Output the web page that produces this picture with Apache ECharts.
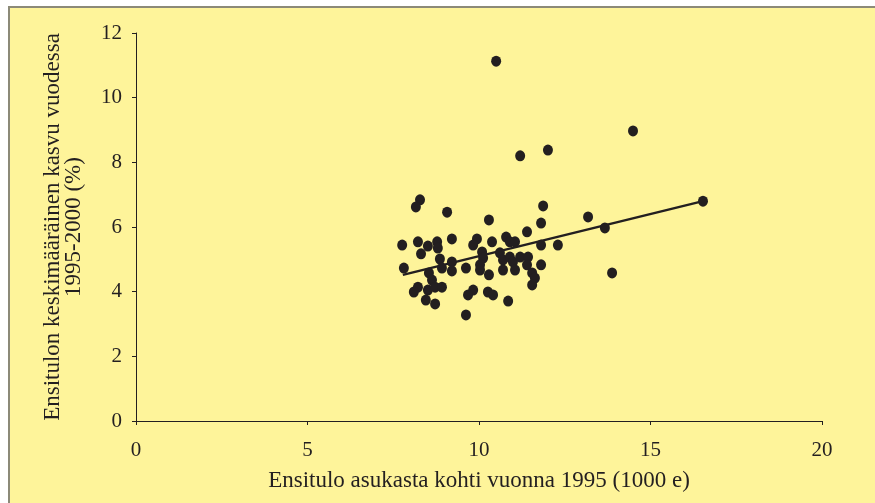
<!DOCTYPE html>
<html>
<head>
<meta charset="UTF-8">
<title>Ensitulo</title>
<script src="https://cdn.jsdelivr.net/npm/echarts@6/dist/echarts.min.js"></script>
<style>
  html, body { margin: 0; padding: 0; background: #ffffff; }
  #main { width: 875px; height: 503px; }
</style>
</head>
<body>
<div id="main"></div>
<script type="text/javascript">
// income per resident 1995 (1000 e)
var incomeX = [10.50, 14.49, 11.20, 12.01, 16.53, 8.28, 8.16, 9.07, 10.29, 11.87,
               11.81, 13.18, 13.67, 11.40, 7.76, 8.22, 8.31, 8.51, 8.78, 8.80,
               9.21, 9.94, 9.83, 10.38, 10.79, 10.90, 11.05, 11.81, 12.30, 7.81,
               8.86, 8.92, 9.21, 9.21, 9.62, 10.09, 10.12, 10.03, 10.03, 10.61,
               10.70, 10.90, 10.99, 11.20, 11.43, 11.40, 10.70, 11.05, 11.81, 10.29,
               11.55, 11.63, 11.55, 8.54, 8.63, 8.22, 8.10, 8.51, 8.72, 8.92,
               8.45, 8.72, 9.83, 9.68, 10.26, 10.41, 10.85, 9.62, 13.88];
// average yearly growth 1995-2000 (%)
var growthY = [11.13, 8.97, 8.20, 8.38, 6.80, 6.84, 6.62, 6.46, 6.22, 6.65,
               6.12, 6.31, 5.97, 5.85, 5.44, 5.54, 5.17, 5.41, 5.54, 5.35,
               5.63, 5.63, 5.44, 5.54, 5.69, 5.54, 5.54, 5.44, 5.44, 4.73,
               5.01, 4.73, 4.92, 4.64, 4.73, 5.23, 5.04, 4.83, 4.67, 5.20,
               4.98, 5.07, 4.92, 5.07, 5.07, 4.83, 4.67, 4.67, 4.83, 4.52,
               4.58, 4.42, 4.21, 4.58, 4.36, 4.14, 3.99, 4.05, 4.14, 4.14,
               3.74, 3.62, 4.05, 3.90, 3.99, 3.90, 3.71, 3.28, 4.58];
// trend line ends
var trendX = [7.78, 16.53];
var trendY = [4.52, 6.80];

var xTicks = [0, 5, 10, 15, 20];
var yTicks = [0, 2, 4, 6, 8, 10, 12];

var points = incomeX.map(function (x, i) { return [x, growthY[i]]; });
var trend = trendX.map(function (x, i) { return [x, trendY[i]]; });

var ink = '#231f20';
var font = 'Liberation Serif';

var myChart = echarts.init(document.getElementById('main'), null, { renderer: 'canvas' });

var option = {
    backgroundColor: '#ffffff',
    animation: false,
    graphic: [{
        type: 'rect',
        z: -10,
        shape: { x: 9, y: 7, width: 900, height: 600 },
        style: { fill: '#fef49a', stroke: '#8c8a78', lineWidth: 2 }
    }],
    grid: { left: 136, top: 33, right: 53, bottom: 82 },
    xAxis: {
        type: 'value',
        min: 0, max: 20, interval: 5,
        name: 'Ensitulo asukasta kohti vuonna 1995 (1000 e)',
        nameLocation: 'middle',
        nameGap: 48,
        nameTextStyle: { color: ink, fontFamily: font, fontSize: 23 },
        axisLine: { show: true, lineStyle: { color: ink, width: 1 } },
        axisTick: { show: true, length: 4, lineStyle: { color: ink } },
        axisLabel: {
            color: ink, fontFamily: font, fontSize: 21, margin: 19,
            formatter: function (v) { return xTicks.indexOf(v) >= 0 ? String(v) : ''; }
        },
        splitLine: { show: false }
    },
    yAxis: {
        type: 'value',
        min: 0, max: 12, interval: 2,
        name: 'Ensitulon keskimääräinen kasvu vuodessa\n1995-2000 (%)',
        nameLocation: 'middle',
        nameGap: 52,
        nameTextStyle: { color: ink, fontFamily: font, fontSize: 23, lineHeight: 21 },
        axisLine: { show: true, lineStyle: { color: ink, width: 1 } },
        axisTick: { show: true, length: 4, lineStyle: { color: ink } },
        axisLabel: {
            color: ink, fontFamily: font, fontSize: 21, margin: 14,
            formatter: function (v) { return yTicks.indexOf(v) >= 0 ? String(v) : ''; }
        },
        splitLine: { show: false }
    },
    series: [
        {
            type: 'line',
            data: trend,
            symbol: 'none',
            lineStyle: { color: ink, width: 2.5 },
            z: 3
        },
        {
            type: 'scatter',
            data: points,
            symbol: 'circle',
            symbolSize: [10, 11],
            itemStyle: { color: ink, opacity: 1 },
            z: 4
        }
    ]
};

myChart.setOption(option);
</script>
</body>
</html>
